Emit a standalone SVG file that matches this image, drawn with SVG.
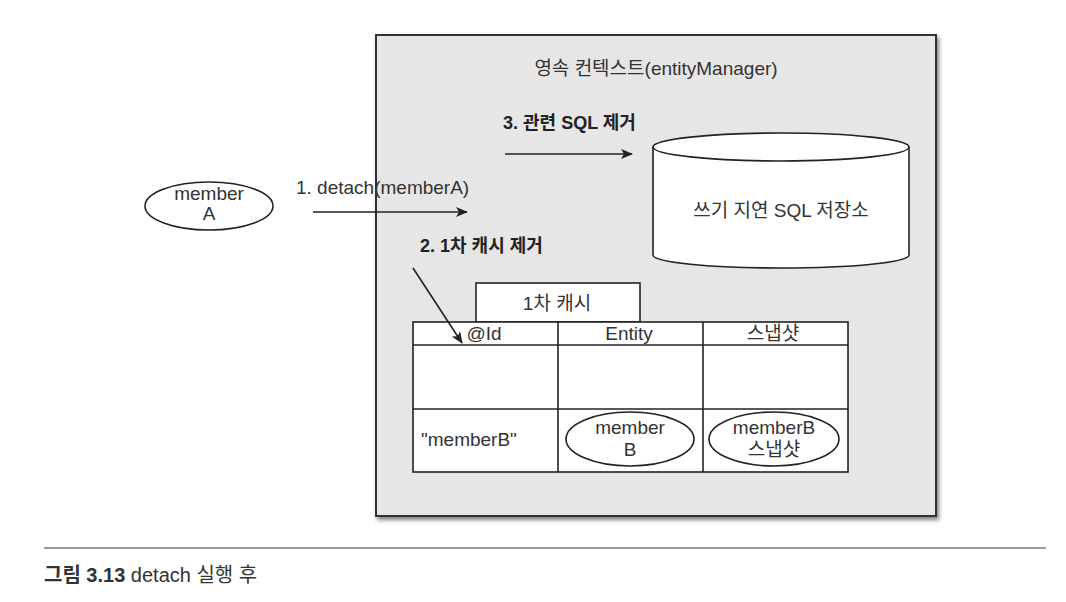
<svg xmlns="http://www.w3.org/2000/svg" width="1066" height="602" viewBox="0 0 1066 602">
<defs>
<style>
text{font-family:"Liberation Sans","Noto Sans CJK KR",sans-serif;fill:#333;font-size:19px}
.b{font-weight:bold;fill:#222;font-size:18px}
.c{text-anchor:middle}
.cap{font-size:20px}
.s{fill:#fff;stroke:#222;stroke-width:1.6}
.ln{stroke:#222;stroke-width:1.6;fill:none}
</style>
<marker id="ah" viewBox="0 0 12 10" refX="11" refY="5" markerWidth="12" markerHeight="10" markerUnits="userSpaceOnUse" orient="auto">
<path d="M0,0 L12,5 L0,10 L3,5 Z" fill="#222"/>
</marker>
<filter id="sh" x="-5%" y="-5%" width="110%" height="110%">
<feGaussianBlur in="SourceAlpha" stdDeviation="2"/>
<feOffset dx="2" dy="3"/>
<feComponentTransfer><feFuncA type="linear" slope="0.5"/></feComponentTransfer>
<feMerge><feMergeNode/><feMergeNode in="SourceGraphic"/></feMerge>
</filter>
</defs>
<rect width="1066" height="602" fill="#fff"/>
<g id="context">
<rect x="376" y="35" width="560" height="481" fill="#e6e6e6" stroke="#333" stroke-width="2" filter="url(#sh)"/>
<text class="c" x="656" y="75">영속 컨텍스트(entityManager)</text>
</g>
<g id="memberA">
<ellipse class="s" cx="209" cy="206" rx="64" ry="24"/>
<text class="c" x="209" y="200">member</text>
<text class="c" x="209" y="220">A</text>
</g>
<g id="sqlstore">
<path class="s" d="M653,147 L653,255 A128,13 0 0 0 909,255 L909,147"/>
<ellipse class="s" cx="781" cy="147" rx="128" ry="14"/>
<text class="c" x="781" y="217">쓰기 지연 SQL 저장소</text>
</g>
<g id="cache">
<rect class="s" x="476" y="283" width="164" height="39"/>
<text class="c" x="557" y="310">1차 캐시</text>
<rect class="s" x="413" y="322" width="435" height="150"/>
<line class="ln" x1="413" y1="345" x2="848" y2="345"/>
<line class="ln" x1="413" y1="409" x2="848" y2="409"/>
<line class="ln" x1="558" y1="322" x2="558" y2="472"/>
<line class="ln" x1="703" y1="322" x2="703" y2="472"/>
<text class="c" x="484" y="340">@Id</text>
<text class="c" x="629" y="340">Entity</text>
<text class="c" x="773" y="340">스냅샷</text>
<text x="421" y="446">"memberB"</text>
</g>
<g id="memberB">
<ellipse class="s" cx="630" cy="439" rx="64" ry="27"/>
<text class="c" x="630" y="434">member</text>
<text class="c" x="630" y="456">B</text>
</g>
<g id="snapshotB">
<ellipse class="s" cx="774" cy="439" rx="65" ry="27"/>
<text class="c" x="774" y="434">memberB</text>
<text class="c" x="774" y="456">스냅샷</text>
</g>
<g id="connectors">
<line class="ln" x1="313" y1="212" x2="467" y2="212" marker-end="url(#ah)"/>
<text x="296" y="194">1. detach(memberA)</text>
<line class="ln" x1="505" y1="154" x2="632" y2="154" marker-end="url(#ah)"/>
<text class="b" x="503" y="129">3. 관련 SQL 제거</text>
<line class="ln" x1="413" y1="268" x2="462" y2="343" marker-end="url(#ah)"/>
<text class="b" x="420" y="252">2. 1차 캐시 제거</text>
</g>
<g id="caption">
<line x1="44" y1="548" x2="1046" y2="548" stroke="#999" stroke-width="2"/>
<text class="cap" x="44" y="582"><tspan font-weight="bold">그림 3.13</tspan> detach 실행 후</text>
</g>
</svg>
